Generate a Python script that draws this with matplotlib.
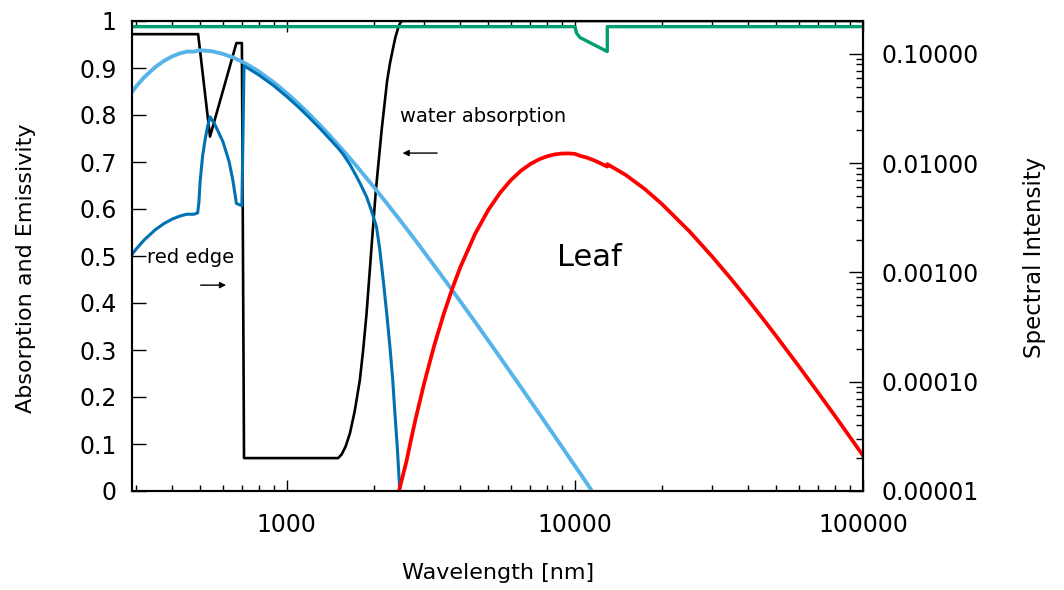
import matplotlib
matplotlib.use("Agg")
import matplotlib.pyplot as plt
from matplotlib.ticker import FixedLocator, FuncFormatter, LogLocator, NullFormatter

# leaf absorption (black, left axis)
absorb_nm = [290, 492, 541, 668, 698, 710, 1507, 1550, 1600, 1656, 1720, 1792, 1840,
             1891, 1968, 2037, 2133, 2230, 2280, 2333, 2380, 2433, 2470, 2506, 2550,
             100000]
absorb_val = [0.972, 0.972, 0.754, 0.953, 0.953, 0.07, 0.07, 0.078, 0.095, 0.123,
              0.17, 0.236, 0.30, 0.378, 0.52, 0.64, 0.768, 0.874, 0.91, 0.94, 0.965,
              0.985, 0.995, 1.0, 1.0, 1.0]

# leaf emissivity (green, left axis)
emis_nm = [290, 10000, 10140, 10400, 12950, 12950, 100000]
emis_val = [0.988, 0.988, 0.974, 0.965, 0.935, 0.988, 0.988]

# sunlight spectrum (light blue, right axis)
sun_nm = [290, 300, 320, 350, 375, 400, 425, 450, 475, 500, 550, 600, 650, 700, 750,
          800, 900, 1000, 1100, 1200, 1300, 1400, 1500, 1600, 1750, 1800, 2000, 2250,
          2500, 2750, 3000, 3500, 4000, 4500, 5000, 5500, 6000, 6500, 7000, 7500,
          8000, 8500, 9000, 9500, 10000, 10500, 11400, 12000]
sun_val = [0.0449, 0.0505, 0.0613, 0.0761, 0.0866, 0.0949, 0.1010, 0.105, 0.1048,
           0.108, 0.1057, 0.100, 0.0928, 0.0847, 0.0766, 0.0688, 0.0550, 0.0437,
           0.0348, 0.0279, 0.02245, 0.01823, 0.0149, 0.01229, 0.00933, 0.00853,
           0.00609, 0.00412, 0.00289, 0.00208, 0.00153, 0.000883, 0.000544,
           0.000353, 0.000238, 0.0001668, 0.000120, 8.88e-5, 6.69e-5, 5.14e-5,
           4.01e-5, 3.18e-5, 2.55e-5, 2.07e-5, 1.70e-5, 1.41e-5, 1.02e-5, 8.4e-6]

# sunlight not absorbed by the leaf (dark blue, right axis)
dark_nm = [290, 300, 320, 350, 375, 400, 425, 450, 475, 490, 495, 500, 510, 520, 530,
           541, 560, 580, 600, 615, 630, 650, 668, 698, 710, 750, 800, 900, 1000,
           1100, 1200, 1300, 1400, 1500, 1570, 1656, 1720, 1792, 1891, 1968, 2047,
           2100, 2160, 2220, 2279, 2330, 2372, 2420, 2466, 2490]
dark_val = [1.46e-3, 1.64e-3, 1.99e-3, 2.47e-3, 2.81e-3, 3.08e-3, 3.28e-3, 3.41e-3,
            3.41e-3, 3.50e-3, 4.38e-3, 6.83e-3, 0.01166, 0.01633, 0.02133, 0.02655,
            0.02307, 0.01905, 0.0157, 0.01274, 0.01035, 6.9e-3, 4.28e-3, 4.08e-3,
            0.0777, 0.0712, 0.0640, 0.0512, 0.0406, 0.0324, 0.0259, 0.0209, 0.01695,
            0.0139, 0.0120, 9.7e-3, 8.1e-3, 6.61e-3, 4.92e-3, 3.65e-3, 2.61e-3,
            1.65e-3, 8.53e-4, 4.3e-4, 2.09e-4, 1.05e-4, 5.13e-5, 2.4e-5, 1.0e-5, 5e-6]

# leaf thermal emission (red, right axis)
leaf_nm = [2400, 2450, 2600, 2700, 2800, 3000, 3250, 3500, 3750, 4000, 4500, 5000,
           5500, 6000, 6500, 7000, 7500, 8000, 8500, 9000, 9500, 10000, 10400, 11000,
           11500, 12000, 12950, 12950, 15000, 17500, 20000, 25000, 30000, 35000,
           40000, 45000, 50000, 60000, 70000, 80000, 90000, 100000]
leaf_val = [7e-6, 1.0e-5, 1.86e-5, 2.98e-5, 4.6e-5, 9.8e-5, 2.16e-4, 4.13e-4, 7.09e-4,
            1.115e-3, 2.25e-3, 3.72e-3, 5.37e-3, 7.02e-3, 8.54e-3, 9.82e-3, 0.01083,
            0.01155, 0.01203, 0.01225, 0.01228, 0.01217, 0.0117, 0.01123, 0.01076,
            0.01025, 0.0093, 0.0098, 0.00781, 0.00578, 0.00425, 0.00237, 0.00139,
            8.6e-4, 5.57e-4, 3.75e-4, 2.61e-4, 1.375e-4, 7.89e-5, 4.85e-5, 3.13e-5,
            2.11e-5]

left_ticks = [0, 0.1, 0.2, 0.3, 0.4, 0.5, 0.6, 0.7, 0.8, 0.9, 1]
right_ticks = [1e-5, 1e-4, 1e-3, 1e-2, 1e-1]
x_ticks = [1000, 10000, 100000]

W, H = 1064, 590
fig = plt.figure(figsize=(W / 100, H / 100), dpi=100)
ax = fig.add_axes([132 / W, 99 / H, 731 / W, 470 / H])
ax2 = ax.twinx()

ax.plot(absorb_nm, absorb_val, color="black", lw=1.9, zorder=3)
ax.plot(emis_nm, emis_val, color="#009e73", lw=2.4, zorder=4)
ax2.plot(sun_nm, sun_val, color="#56b4e9", lw=2.8)
ax2.plot(dark_nm, dark_val, color="#0072b2", lw=2.2)
ax2.plot(leaf_nm, leaf_val, color="#ff0000", lw=2.7)

ax.set_xscale("log")
ax.set_xlim(290, 100000)
ax.set_ylim(0, 1)
ax2.set_yscale("log")
ax2.set_ylim(1e-5, 0.2)

ax.xaxis.set_major_locator(FixedLocator(x_ticks))
ax.xaxis.set_major_formatter(FuncFormatter(lambda v, p: "%d" % v))
ax.xaxis.set_minor_locator(LogLocator(base=10, subs=range(2, 10), numticks=20))
ax.xaxis.set_minor_formatter(NullFormatter())
ax.yaxis.set_major_locator(FixedLocator(left_ticks))
ax.yaxis.set_major_formatter(FuncFormatter(lambda v, p: "%g" % v))

ax2.yaxis.set_major_locator(FixedLocator(right_ticks))
ax2.yaxis.set_major_formatter(FuncFormatter(lambda v, p: "%.5f" % v))
ax2.yaxis.set_minor_locator(LogLocator(base=10, subs=range(2, 10), numticks=20))
ax2.yaxis.set_minor_formatter(NullFormatter())

ax.tick_params(axis="x", which="major", direction="in", top=True, length=8, width=1,
               labelsize=17, pad=16)
ax.tick_params(axis="x", which="minor", direction="in", top=True, length=4, width=1)
ax.tick_params(axis="y", which="major", direction="in", length=10, width=1,
               labelsize=17, pad=11)
ax2.tick_params(axis="y", which="major", direction="in", length=10, width=1,
                labelsize=17, pad=13)
ax2.tick_params(axis="y", which="minor", direction="in", length=5, width=1)

for a in (ax, ax2):
    for s in a.spines.values():
        s.set_linewidth(1.5)

arrow = dict(arrowstyle="-|>", color="black", lw=1, mutation_scale=9)
ax.text(2466, 0.796, "water absorption", fontsize=14, va="center", ha="left")
ax.annotate("", xy=(2466, 0.719), xytext=(3398, 0.719), arrowprops=arrow)
ax.text(326, 0.496, "red edge", fontsize=14, va="center", ha="left")
ax.annotate("", xy=(629, 0.438), xytext=(491, 0.438), arrowprops=arrow)
ax.text(8655, 0.496, "Leaf", fontsize=22, va="center", ha="left")

fig.text(26 / W, 1 - 268 / H, "Absorption and Emissivity", rotation=90,
         fontsize=16, ha="center", va="center")
fig.text(1035 / W, 1 - 257 / H, "Spectral Intensity", rotation=90,
         fontsize=16.5, ha="center", va="center")
fig.text(498 / W, 1 - 573 / H, "Wavelength [nm]", fontsize=16,
         ha="center", va="center")

fig.savefig("out.png", dpi=100)
